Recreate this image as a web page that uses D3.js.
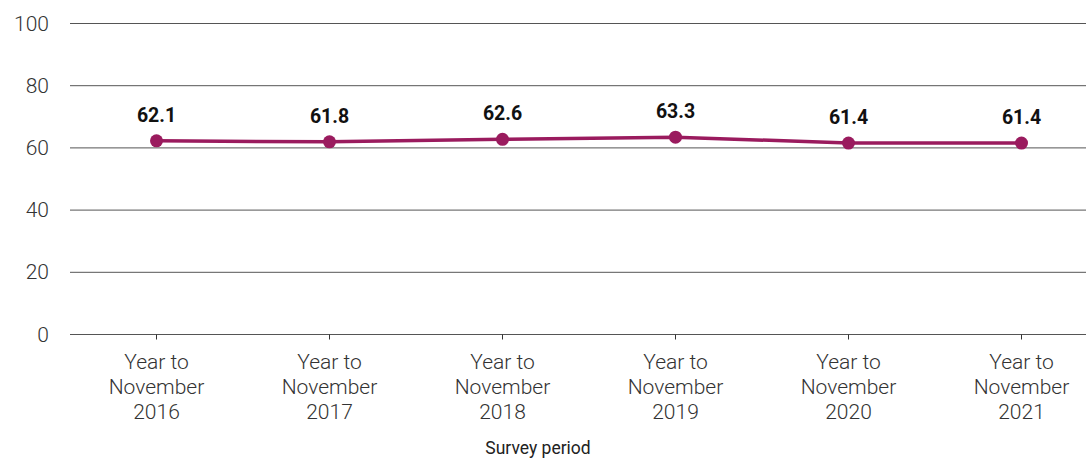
<!DOCTYPE html>
<html>
<head>
<meta charset="utf-8">
<script src="https://cdn.jsdelivr.net/npm/d3@7"></script>
<style>
  body { margin: 0; background: #fff; }
  svg { display: block; font-family: Roboto, "Liberation Sans", sans-serif; }
</style>
</head>
<body>
<div id="chart"></div>
<script>
const periods = ["Year to November 2016", "Year to November 2017", "Year to November 2018",
                 "Year to November 2019", "Year to November 2020", "Year to November 2021"];
const values = [62.1, 61.8, 62.6, 63.3, 61.4, 61.4];
const yTicks = [0, 20, 40, 60, 80, 100];

const width = 1086, height = 464;
const margin = { top: 23, left: 70, bottom: 130 };

const svg = d3.select('#chart').append('svg')
  .attr('width', width)
  .attr('height', height);

const x = d3.scaleBand()
  .domain(periods)
  .range([margin.left, 1108]);

const y = d3.scaleLinear()
  .domain([0, 100])
  .range([height - margin.bottom, margin.top]);

// gridlines
svg.append('g')
  .selectAll('line')
  .data(yTicks)
  .join('line')
  .attr('x1', margin.left)
  .attr('x2', width)
  .attr('y1', d => y(d) + 0.5)
  .attr('y2', d => y(d) + 0.5)
  .style('stroke', '#555')
  .style('stroke-width', 1);

// y labels
svg.append('g')
  .selectAll('text')
  .data(yTicks)
  .join('text')
  .attr('x', 49)
  .attr('y', d => y(d))
  .attr('dy', '0.36em')
  .attr('text-anchor', 'end')
  .style('font-size', '21px')
  .style('font-weight', 300)
  .style('fill', '#333')
  .text(d => d);

// x axis ticks + labels
const xAxis = d3.axisBottom(x).tickSize(5).tickSizeOuter(0);
const gx = svg.append('g')
  .attr('transform', `translate(0,${y(0) + 0.5})`)
  .call(xAxis);
gx.select('.domain').remove();
gx.selectAll('.tick line').style('stroke', '#333');
gx.selectAll('.tick text').remove();

periods.forEach(p => {
  const words = p.split(' ');
  const lines = [words.slice(0, 2).join(' '), words[2], words[3]];
  const t = svg.append('text')
    .attr('x', x(p) + x.bandwidth() / 2)
    .attr('y', 369)
    .attr('text-anchor', 'middle')
    .style('font-size', '21px')
    .style('font-weight', 300)
    .style('fill', '#333');
  lines.forEach((l, i) => {
    t.append('tspan')
      .attr('x', x(p) + x.bandwidth() / 2)
      .attr('dy', i === 0 ? 0 : 25)
      .text(l);
  });
});

svg.append('text')
  .attr('x', 538)
  .attr('y', 454)
  .attr('text-anchor', 'middle')
  .style('font-size', '17.5px')
  .style('fill', '#222')
  .text('Survey period');

const cx = (d, i) => x(periods[i]) + x.bandwidth() / 2;

const line = d3.line()
  .x(cx)
  .y(d => y(d));

svg.append('path')
  .datum(values)
  .attr('d', line)
  .style('fill', 'none')
  .style('stroke', '#9a1b5e')
  .style('stroke-width', 3.5);

svg.append('g')
  .selectAll('circle')
  .data(values)
  .join('circle')
  .attr('cx', cx)
  .attr('cy', d => y(d))
  .attr('r', 6.5)
  .style('fill', '#9a1b5e');

svg.append('g')
  .selectAll('text')
  .data(values)
  .join('text')
  .attr('x', cx)
  .attr('y', d => y(d) - 19)
  .attr('text-anchor', 'middle')
  .style('font-size', '19.5px')
  .style('font-weight', 'bold')
  .style('fill', '#111')
  .text(d => d.toFixed(1));
</script>
</body>
</html>
